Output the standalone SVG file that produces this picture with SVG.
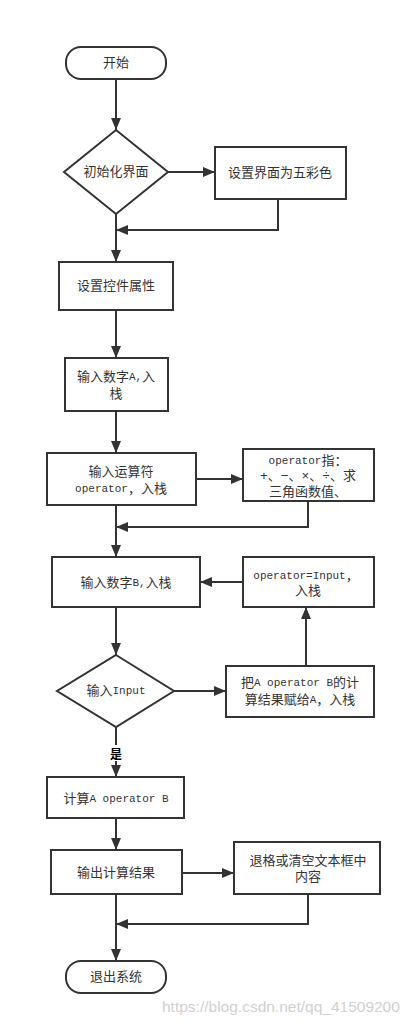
<svg xmlns="http://www.w3.org/2000/svg" width="414" height="1025" viewBox="0 0 414 1025">
<defs>
<marker id="ah" viewBox="0 0 12 10" refX="12" refY="5" markerWidth="12" markerHeight="10" markerUnits="userSpaceOnUse" orient="auto">
<path d="M0,0 L12,5 L0,10 z" fill="#333"/>
</marker>
<style>
.n{fill:#fff;stroke:#333;stroke-width:2}
.t{font-family:"Liberation Mono","Noto Sans CJK SC",monospace;font-size:13px;fill:#333;text-anchor:middle;dominant-baseline:central}
.l{font-size:11px}
.c{fill:none;stroke:#333;stroke-width:2}
.wm{font-family:"Liberation Sans",Arial,sans-serif;font-size:15.5px;fill:#d0d0d0}
</style>
</defs>
<rect width="414" height="1025" fill="#fff"/>
<g id="connectors">
<path class="c" d="M116,79 V130" marker-end="url(#ah)"/>
<path class="c" d="M168,172 H215" marker-end="url(#ah)"/>
<path class="c" d="M278,199 V230 H116" marker-end="url(#ah)"/>
<path class="c" d="M116,214 V262" marker-end="url(#ah)"/>
<path class="c" d="M116,310 V358" marker-end="url(#ah)"/>
<path class="c" d="M116,411 V453" marker-end="url(#ah)"/>
<path class="c" d="M196,479 H243" marker-end="url(#ah)"/>
<path class="c" d="M308,501 V527 H116" marker-end="url(#ah)"/>
<path class="c" d="M116,505 V557" marker-end="url(#ah)"/>
<path class="c" d="M243,582 H200" marker-end="url(#ah)"/>
<path class="c" d="M116,607 V655" marker-end="url(#ah)"/>
<path class="c" d="M174,691 H226" marker-end="url(#ah)"/>
<path class="c" d="M306,666 V607" marker-end="url(#ah)"/>
<path class="c" d="M116,727 V777" marker-end="url(#ah)"/>
<path class="c" d="M116,818 V850" marker-end="url(#ah)"/>
<path class="c" d="M182,873 H234" marker-end="url(#ah)"/>
<path class="c" d="M308,894 V924 H116" marker-end="url(#ah)"/>
<path class="c" d="M116,894 V961" marker-end="url(#ah)"/>
</g>
<g id="label-yes">
<rect x="106" y="745" width="20" height="16" fill="#fff"/>
<text x="116" y="753" font-family="'Noto Sans CJK SC',sans-serif" font-size="12" font-weight="bold" fill="#000" text-anchor="middle" dominant-baseline="central">是</text>
</g>
<g id="start">
<rect class="n" x="66" y="47" width="100" height="32" rx="15"/>
<text class="t" x="116" y="63">开始</text>
</g>
<g id="init">
<path class="n" d="M116,130 L168,172 L116,214 L64,172 Z"/>
<text class="t" x="116" y="172">初始化界面</text>
</g>
<g id="color">
<rect class="n" x="215" y="147" width="131" height="52"/>
<text class="t" x="280" y="173">设置界面为五彩色</text>
</g>
<g id="props">
<rect class="n" x="59" y="262" width="114" height="48"/>
<text class="t" x="116" y="286">设置控件属性</text>
</g>
<g id="inputA">
<rect class="n" x="65" y="358" width="103" height="53"/>
<text class="t" x="116" y="377">输入数字<tspan class="l">A,</tspan>入</text>
<text class="t" x="116" y="394">栈</text>
</g>
<g id="inputOp">
<rect class="n" x="47" y="453" width="149" height="52"/>
<text class="t" x="121" y="472">输入运算符</text>
<text class="t" x="121" y="489"><tspan class="l">operator</tspan>，入栈</text>
</g>
<g id="opdesc">
<rect class="n" x="243" y="449" width="131" height="52"/>
<text class="t" x="308" y="461"><tspan class="l">operator</tspan>指：</text>
<text class="t" x="308" y="476">+、−、×、÷、求</text>
<text class="t" x="308" y="492">三角函数值、</text>
</g>
<g id="inputB">
<rect class="n" x="52" y="557" width="148" height="50"/>
<text class="t" x="126" y="583">输入数字<tspan class="l">B,</tspan>入栈</text>
</g>
<g id="opInput">
<rect class="n" x="243" y="557" width="131" height="50"/>
<text class="t" x="306" y="576"><tspan class="l">operator=Input</tspan>，</text>
<text class="t" x="308" y="591">入栈</text>
</g>
<g id="decision">
<path class="n" d="M116,655 L174,691 L116,727 L57,691 Z"/>
<text class="t" x="116" y="691">输入<tspan class="l">Input</tspan></text>
</g>
<g id="assign">
<rect class="n" x="226" y="666" width="148" height="51"/>
<text class="t" x="300" y="683">把<tspan class="l">A operator B</tspan>的计</text>
<text class="t" x="300" y="700">算结果赋给<tspan class="l">A</tspan>，入栈</text>
</g>
<g id="compute">
<rect class="n" x="47" y="777" width="137" height="41"/>
<text class="t" x="116" y="799">计算<tspan class="l">A operator B</tspan></text>
</g>
<g id="output">
<rect class="n" x="51" y="850" width="131" height="44"/>
<text class="t" x="116" y="873">输出计算结果</text>
</g>
<g id="clear">
<rect class="n" x="234" y="842" width="146" height="52"/>
<text class="t" x="308" y="861">退格或清空文本框中</text>
<text class="t" x="308" y="877">内容</text>
</g>
<g id="end">
<rect class="n" x="66" y="961" width="100" height="32" rx="15"/>
<text class="t" x="116" y="977">退出系统</text>
</g>
<text class="wm" x="162" y="1012">https://blog.csdn.net/qq_41509200</text>
</svg>
